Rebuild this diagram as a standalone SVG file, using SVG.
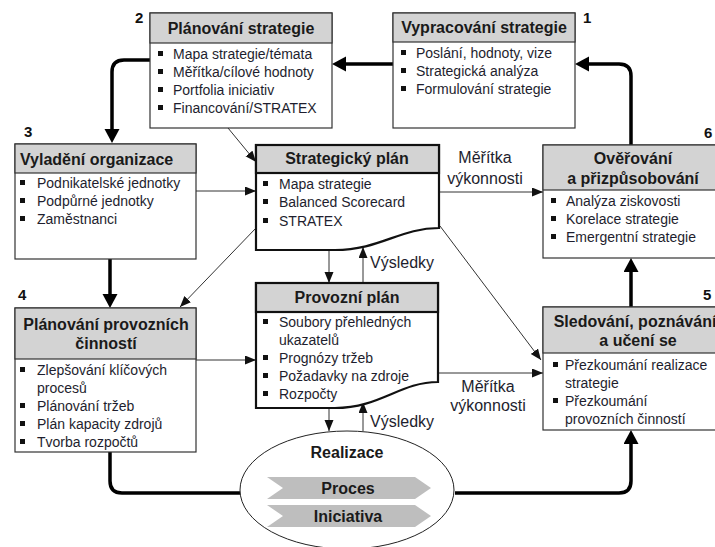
<svg xmlns="http://www.w3.org/2000/svg" width="715" height="547" viewBox="0 0 715 547">
<style>
.box{fill:#fff;stroke:#333;stroke-width:1.2}
.hdr{fill:#d3d3d3;stroke:#333;stroke-width:1.2}
.doc{fill:#fff;stroke:#111;stroke-width:2.2}
.dhdr{fill:#d3d3d3;stroke:#111;stroke-width:2.2}
.h{font-family:"Liberation Sans",Arial,sans-serif;font-weight:bold;font-size:16px;fill:#1a1a1a;text-anchor:middle}
.hl{font-family:"Liberation Sans",Arial,sans-serif;font-weight:bold;font-size:16px;fill:#1a1a1a}
.t{font-family:"Liberation Sans",Arial,sans-serif;font-size:14px;fill:#1e1e2e}
.l{font-family:"Liberation Sans",Arial,sans-serif;font-size:16px;fill:#1e1e2e}
.lc{font-family:"Liberation Sans",Arial,sans-serif;font-size:16px;fill:#1e1e2e;text-anchor:middle}
.n{font-family:"Liberation Sans",Arial,sans-serif;font-weight:bold;font-size:15px;fill:#111}
.bu{fill:#111}
.thick{stroke:#000;stroke-width:3.5;fill:none;marker-end:url(#ak)}
.thick0{stroke:#000;stroke-width:3.5;fill:none}
.thin{stroke:#333;stroke-width:1;fill:none;marker-end:url(#at)}
.chev{fill:#bebebe}
</style>
<defs>
<marker id="ak" markerUnits="userSpaceOnUse" markerWidth="16" markerHeight="16" refX="4" refY="7.5" orient="auto"><path d="M0,0 L14,7.5 L0,15 z" fill="#000"/></marker>
<marker id="at" markerUnits="userSpaceOnUse" markerWidth="12" markerHeight="10" refX="11" refY="4.5" orient="auto"><path d="M0,0 L11,4.5 L0,9 z" fill="#111"/></marker>
</defs>

<g id="connectors">
<path class="thick" d="M393,64 H342"/>
<path class="thick" d="M150,60 H124 Q112,60 112,72 V133"/>
<path class="thick" d="M110,259 V298"/>
<path class="thick0" d="M110,452 V481 Q110,493 122,493 H240"/>
<path class="thick" d="M455,493 H619 Q631,493 631,481 V440"/>
<path class="thick" d="M631,307 V268"/>
<path class="thick" d="M631,145 V76 Q631,64 619,64 H585"/>
<path class="thin" d="M228,128 L256,162"/>
<path class="thin" d="M196,191 H256"/>
<path class="thin" d="M256,228 L180,307"/>
<path class="thin" d="M329,250 V283"/>
<path class="thin" d="M363,283 V247"/>
<path class="thin" d="M439,192 H543"/>
<path class="thin" d="M440,226 L541,360"/>
<path class="thin" d="M196,360 H256"/>
<path class="thin" d="M438,373 H543"/>
<path class="thin" d="M329,408 V431"/>
<path class="thin" d="M363,431 V402"/>
<text class="lc" x="485" y="163">Měřítka</text>
<text class="lc" x="485" y="184">výkonnosti</text>
<text class="lc" x="488" y="392">Měřítka</text>
<text class="lc" x="488" y="411">výkonnosti</text>
<text class="l" x="370" y="268">Výsledky</text>
<text class="l" x="370" y="427">Výsledky</text>
</g>

<g id="n1">
<rect class="box" x="393" y="13" width="182" height="115"/>
<rect class="hdr" x="393" y="13" width="182" height="29"/>
<text class="h" x="484" y="33">Vypracování strategie</text>
<rect class="bu" x="401" y="50" width="5" height="5"/><text class="t" x="416" y="58">Poslání, hodnoty, vize</text>
<rect class="bu" x="401" y="68" width="5" height="5"/><text class="t" x="416" y="76">Strategická analýza</text>
<rect class="bu" x="401" y="86" width="5" height="5"/><text class="t" x="416" y="94">Formulování strategie</text>
<text class="n" x="583" y="23">1</text>
</g>

<g id="n2">
<rect class="box" x="150" y="13" width="182" height="115"/>
<rect class="hdr" x="150" y="13" width="182" height="30"/>
<text class="h" x="241" y="34">Plánování strategie</text>
<rect class="bu" x="158" y="51" width="5" height="5"/><text class="t" x="173" y="59">Mapa strategie/témata</text>
<rect class="bu" x="158" y="69" width="5" height="5"/><text class="t" x="173" y="77">Měřítka/cílové hodnoty</text>
<rect class="bu" x="158" y="87" width="5" height="5"/><text class="t" x="173" y="95">Portfolia iniciativ</text>
<rect class="bu" x="158" y="105" width="5" height="5"/><text class="t" x="173" y="113">Financování/STRATEX</text>
<text class="n" x="135" y="23">2</text>
</g>

<g id="n3">
<rect class="box" x="15" y="144" width="181" height="115"/>
<rect class="hdr" x="15" y="144" width="181" height="29"/>
<text class="hl" x="20" y="165">Vyladění organizace</text>
<rect class="bu" x="20" y="180" width="5" height="5"/><text class="t" x="37" y="188">Podnikatelské jednotky</text>
<rect class="bu" x="20" y="198" width="5" height="5"/><text class="t" x="37" y="206">Podpůrné jednotky</text>
<rect class="bu" x="20" y="216" width="5" height="5"/><text class="t" x="37" y="224">Zaměstnanci</text>
<text class="n" x="24" y="137">3</text>
</g>

<g id="n4">
<rect class="box" x="15" y="308" width="181" height="144"/>
<rect class="hdr" x="15" y="308" width="181" height="51"/>
<text class="h" x="106" y="330">Plánování provozních</text>
<text class="h" x="106" y="349">činností</text>
<rect class="bu" x="20" y="367" width="5" height="5"/><text class="t" x="37" y="375">Zlepšování klíčových</text>
<text class="t" x="37" y="393">procesů</text>
<rect class="bu" x="20" y="403" width="5" height="5"/><text class="t" x="37" y="411">Plánování tržeb</text>
<rect class="bu" x="20" y="421" width="5" height="5"/><text class="t" x="37" y="429">Plán kapacity zdrojů</text>
<rect class="bu" x="20" y="439" width="5" height="5"/><text class="t" x="37" y="447">Tvorba rozpočtů</text>
<text class="n" x="18" y="300">4</text>
</g>

<g id="n5">
<rect class="box" x="543" y="307" width="184" height="123"/>
<rect class="hdr" x="543" y="307" width="184" height="46"/>
<text class="h" x="635" y="327">Sledování, poznávání</text>
<text class="h" x="638" y="346">a učení se</text>
<rect class="bu" x="553" y="362" width="5" height="5"/><text class="t" x="565" y="370">Přezkoumání realizace</text>
<text class="t" x="565" y="388">strategie</text>
<rect class="bu" x="553" y="398" width="5" height="5"/><text class="t" x="565" y="406">Přezkoumání</text>
<text class="t" x="565" y="424">provozních činností</text>
<text class="n" x="703" y="300">5</text>
</g>

<g id="n6">
<rect class="box" x="543" y="145" width="184" height="113"/>
<rect class="hdr" x="543" y="145" width="184" height="45"/>
<text class="h" x="633" y="164">Ověřování</text>
<text class="h" x="633" y="184">a přizpůsobování</text>
<rect class="bu" x="551" y="198" width="5" height="5"/><text class="t" x="566" y="206">Analýza ziskovosti</text>
<rect class="bu" x="551" y="216" width="5" height="5"/><text class="t" x="566" y="224">Korelace strategie</text>
<rect class="bu" x="551" y="234" width="5" height="5"/><text class="t" x="566" y="242">Emergentní strategie</text>
<text class="n" x="704" y="138">6</text>
</g>

<g id="strategicky-plan">
<path class="doc" d="M256,145 H439 V228 C400,228 380,250 335,250 H256 Z"/>
<rect class="dhdr" x="256" y="145" width="183" height="28"/>
<text class="h" x="347" y="164">Strategický plán</text>
<rect class="bu" x="263" y="181" width="5" height="5"/><text class="t" x="279" y="189">Mapa strategie</text>
<rect class="bu" x="263" y="199" width="5" height="5"/><text class="t" x="279" y="207">Balanced Scorecard</text>
<rect class="bu" x="263" y="218" width="5" height="5"/><text class="t" x="279" y="226">STRATEX</text>
</g>

<g id="provozni-plan">
<path class="doc" d="M256,283 H438 V382 C400,382 380,408 335,408 H256 Z"/>
<rect class="dhdr" x="256" y="283" width="182" height="29"/>
<text class="h" x="347" y="303">Provozní plán</text>
<rect class="bu" x="263" y="319" width="5" height="5"/><text class="t" x="279" y="327">Soubory přehledných</text>
<text class="t" x="279" y="345">ukazatelů</text>
<rect class="bu" x="263" y="355" width="5" height="5"/><text class="t" x="279" y="363">Prognózy tržeb</text>
<rect class="bu" x="263" y="373" width="5" height="5"/><text class="t" x="279" y="381">Požadavky na zdroje</text>
<rect class="bu" x="263" y="391" width="5" height="5"/><text class="t" x="279" y="399">Rozpočty</text>
</g>

<g id="realizace">
<ellipse cx="347" cy="490" rx="107" ry="59" fill="#fff" stroke="#222" stroke-width="1"/>
<text class="h" x="347" y="458">Realizace</text>
<path class="chev" d="M267,477 H415 L431,488 L415,499 H267 L283,488 Z"/>
<text class="h" x="348" y="494">Proces</text>
<path class="chev" d="M267,505 H415 L431,516 L415,527 H267 L283,516 Z"/>
<text class="h" x="348" y="522">Iniciativa</text>
</g>
</svg>
